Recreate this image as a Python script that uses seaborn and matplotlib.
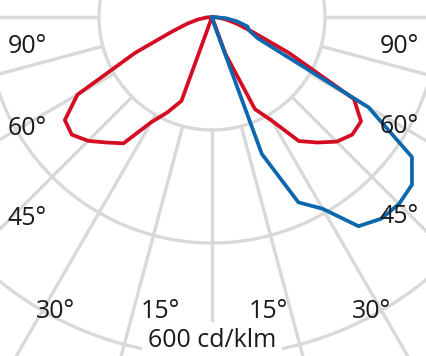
import numpy as np
import pandas as pd
import matplotlib
matplotlib.use("Agg")
import matplotlib.pyplot as plt
import seaborn as sns

# ---- data (cd/klm vs. angle in degrees, 0 = straight down, + = right) ----
angles_red = [-90, -85, -80, -75, -70, -65, -60, -55, -50, -45, -40, -35, -30,
              -25, -20, -15, -10, -5, 0, 5, 10, 15, 20, 25, 30, 35, 40, 45,
              50, 55, 60, 65, 70, 75, 80, 85, 90]
red_cd = [0, 10, 25, 45, 75, 150, 275, 318, 324, 310, 290, 273, 215,
          186, 158, 0, 0, 0, 0, 0, 0, 0, 70, 180, 212, 268, 290, 312,
          324, 322, 290, 150, 75, 45, 25, 10, 0]

angles_blue = [0, 5, 10, 15, 20, 25, 30, 35, 40, 45, 50, 55, 60, 65, 70, 75, 80, 85, 90]
blue_cd = [0, 0, 0, 10, 258, 362, 392, 452, 466, 468, 462, 432, 320, 90, 70, 65, 45, 25, 0]

ring_values = [200, 400, 600]
spoke_angles = list(range(-180, 180, 15))
label_texts = ["90°", "60°", "45°", "30°", "15°", "15°", "30°", "45°", "60°", "90°"]
scale_label = "600 cd/klm"

red_color = "#d50c22"
blue_color = "#0b67ae"
grid_color = "#d9d9d9"

sns.set_theme(style="white")
plt.rcParams['font.family'] = ['Open Sans', 'DejaVu Sans']

W, H = 427, 356
fig = plt.figure(figsize=(W / 100, H / 100), dpi=100)
fig.patch.set_facecolor("white")

cx, cy = 212, 17          # pole position in pixels (from top-left)
px_per_unit = 0.565
rmax = 720
R = rmax * px_per_unit
ax = fig.add_axes([(cx - R) / W, (H - cy - R) / H, 2 * R / W, 2 * R / H],
                  projection="polar")
ax.set_theta_zero_location("S")
ax.set_theta_direction(1)

df = pd.concat([
    pd.DataFrame({"theta": np.deg2rad(angles_red), "cd": red_cd, "curve": "C0-C180"}),
    pd.DataFrame({"theta": np.deg2rad(angles_blue), "cd": blue_cd, "curve": "C90-C270"}),
], ignore_index=True)

# spokes (from the first ring outwards)
for a in spoke_angles:
    ax.plot([np.deg2rad(a)] * 2, [ring_values[0], rmax], color=grid_color,
            lw=2.4, zorder=1, solid_capstyle="butt")

sns.lineplot(data=df, x="theta", y="cd", hue="curve",
             hue_order=["C0-C180", "C90-C270"],
             palette={"C0-C180": red_color, "C90-C270": blue_color},
             sort=False, estimator=None, legend=False, ax=ax,
             linewidth=2.7, zorder=3)
for line in ax.lines:
    line.set_solid_joinstyle("round")

ax.set_rlim(0, rmax)
ax.set_xticks([])
ax.set_yticks(ring_values)
ax.set_yticklabels([])
ax.grid(False)
ax.yaxis.grid(True, color=grid_color, lw=2.4)
ax.set_axisbelow(True)
ax.spines["polar"].set_visible(False)
ax.set_xlabel("")
ax.set_ylabel("")
ax.set_facecolor("white")

# angle labels (x center px, baseline px)
label_pos = [(27.5, 53), (27.5, 135), (27.5, 225), (56, 318), (160, 318),
             (268, 318), (371.5, 318), (399, 223), (399, 133), (399, 53)]
for txt, (x, y) in zip(label_texts, label_pos):
    fig.text(x / W, 1 - y / H, txt, ha="center", va="baseline",
             fontsize=18, color="#1a1a1a")

fig.text(212 / W, 1 - 347 / H, scale_label, ha="center", va="baseline",
         fontsize=18, color="#1a1a1a",
         bbox=dict(boxstyle="square,pad=0.25", fc="white", ec="none"))

fig.savefig("out.png", dpi=100, facecolor="white")
